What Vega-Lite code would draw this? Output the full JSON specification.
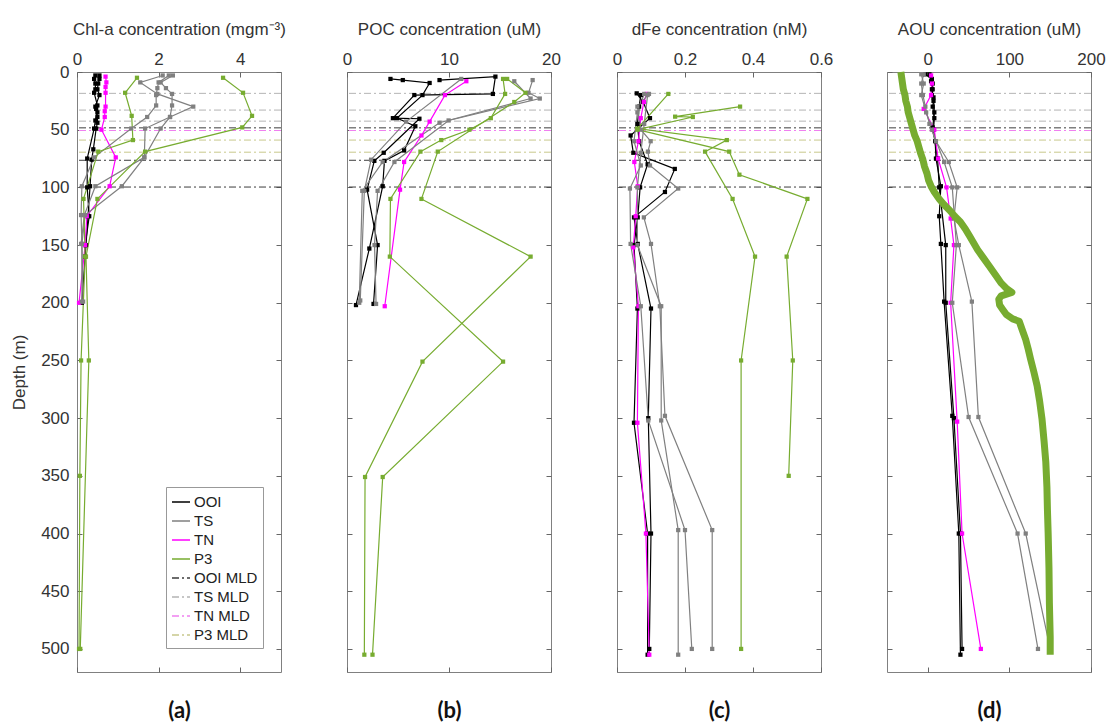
{
"$schema": "https://vega.github.io/schema/vega-lite/v6.json",
"background": "white",
"padding": {"left": 10, "top": 19, "right": 5, "bottom": 5},
"spacing": 66,
"bounds": "flush",
"datasets": {
"mld": [
{"s":"TS MLD","d":18.5},{"s":"TS MLD","d":33},{"s":"TS MLD","d":42.6},{"s":"OOI MLD","d":48.4},{"s":"TN MLD","d":50.7},{"s":"P3 MLD","d":59},{"s":"P3 MLD","d":69.5},{"s":"OOI MLD","d":76.5},{"s":"OOI MLD","d":99.7}
],
"prof": [
{"p":"a","s":"OOI","c":"OOI1","d":3,"v":0.45},{"p":"a","s":"OOI","c":"OOI1","d":6,"v":0.42},{"p":"a","s":"OOI","c":"OOI1","d":10,"v":0.45},{"p":"a","s":"OOI","c":"OOI1","d":15,"v":0.45},{"p":"a","s":"OOI","c":"OOI1","d":18,"v":0.42},{"p":"a","s":"OOI","c":"OOI1","d":29,"v":0.5},{"p":"a","s":"OOI","c":"OOI1","d":32,"v":0.47},{"p":"a","s":"OOI","c":"OOI1","d":39,"v":0.5},{"p":"a","s":"OOI","c":"OOI1","d":44,"v":0.5},{"p":"a","s":"OOI","c":"OOI1","d":49,"v":0.47},{"p":"a","s":"OOI","c":"OOI1","d":67,"v":0.4},{"p":"a","s":"OOI","c":"OOI1","d":76,"v":0.36},{"p":"a","s":"OOI","c":"OOI1","d":99,"v":0.32},{"p":"a","s":"OOI","c":"OOI1","d":125,"v":0.27},{"p":"a","s":"OOI","c":"OOI1","d":150,"v":0.22},{"p":"a","s":"OOI","c":"OOI1","d":200,"v":0.12},
{"p":"a","s":"OOI","c":"OOI2","d":3,"v":0.55},{"p":"a","s":"OOI","c":"OOI2","d":6,"v":0.55},{"p":"a","s":"OOI","c":"OOI2","d":10,"v":0.52},{"p":"a","s":"OOI","c":"OOI2","d":15,"v":0.5},{"p":"a","s":"OOI","c":"OOI2","d":20,"v":0.55},{"p":"a","s":"OOI","c":"OOI2","d":30,"v":0.45},{"p":"a","s":"OOI","c":"OOI2","d":35,"v":0.5},{"p":"a","s":"OOI","c":"OOI2","d":42,"v":0.45},{"p":"a","s":"OOI","c":"OOI2","d":49,"v":0.42},{"p":"a","s":"OOI","c":"OOI2","d":75,"v":0.25},{"p":"a","s":"OOI","c":"OOI2","d":100,"v":0.25},{"p":"a","s":"OOI","c":"OOI2","d":125,"v":0.3},{"p":"a","s":"OOI","c":"OOI2","d":150,"v":0.2},{"p":"a","s":"OOI","c":"OOI2","d":160,"v":0.2},
{"p":"a","s":"TN","c":"TN1","d":4,"v":0.7},{"p":"a","s":"TN","c":"TN1","d":9,"v":0.72},{"p":"a","s":"TN","c":"TN1","d":13,"v":0.7},{"p":"a","s":"TN","c":"TN1","d":18,"v":0.7},{"p":"a","s":"TN","c":"TN1","d":30,"v":0.7},{"p":"a","s":"TN","c":"TN1","d":34,"v":0.68},{"p":"a","s":"TN","c":"TN1","d":39,"v":0.68},{"p":"a","s":"TN","c":"TN1","d":50,"v":0.6},{"p":"a","s":"TN","c":"TN1","d":74,"v":0.95},{"p":"a","s":"TN","c":"TN1","d":99,"v":0.8},{"p":"a","s":"TN","c":"TN1","d":125,"v":0.24},{"p":"a","s":"TN","c":"TN1","d":150,"v":0.2},{"p":"a","s":"TN","c":"TN1","d":200,"v":0.05},
{"p":"a","s":"TS","c":"TS1","d":3,"v":2.25},{"p":"a","s":"TS","c":"TS1","d":9,"v":2.0},{"p":"a","s":"TS","c":"TS1","d":14,"v":1.97},{"p":"a","s":"TS","c":"TS1","d":20,"v":1.94},{"p":"a","s":"TS","c":"TS1","d":29,"v":1.94},{"p":"a","s":"TS","c":"TS1","d":39,"v":1.72},{"p":"a","s":"TS","c":"TS1","d":49,"v":1.33},{"p":"a","s":"TS","c":"TS1","d":74,"v":0.42},{"p":"a","s":"TS","c":"TS1","d":99,"v":0.12},{"p":"a","s":"TS","c":"TS1","d":124,"v":0.1},{"p":"a","s":"TS","c":"TS1","d":149,"v":0.12},{"p":"a","s":"TS","c":"TS1","d":199,"v":0.15},
{"p":"a","s":"TS","c":"TS2","d":3,"v":2.35},{"p":"a","s":"TS","c":"TS2","d":9,"v":2.05},{"p":"a","s":"TS","c":"TS2","d":14,"v":2.18},{"p":"a","s":"TS","c":"TS2","d":19,"v":2.33},{"p":"a","s":"TS","c":"TS2","d":29,"v":2.33},{"p":"a","s":"TS","c":"TS2","d":39,"v":2.28},{"p":"a","s":"TS","c":"TS2","d":49,"v":2.05},{"p":"a","s":"TS","c":"TS2","d":74,"v":1.65},{"p":"a","s":"TS","c":"TS2","d":99,"v":1.1},{"p":"a","s":"TS","c":"TS2","d":124,"v":0.2},{"p":"a","s":"TS","c":"TS2","d":149,"v":0.12},{"p":"a","s":"TS","c":"TS2","d":199,"v":0.12},
{"p":"a","s":"TS","c":"TS3","d":3,"v":2.1},{"p":"a","s":"TS","c":"TS3","d":9,"v":1.55},{"p":"a","s":"TS","c":"TS3","d":19,"v":1.97},{"p":"a","s":"TS","c":"TS3","d":30,"v":2.85},{"p":"a","s":"TS","c":"TS3","d":39,"v":2.28},{"p":"a","s":"TS","c":"TS3","d":49,"v":1.67},{"p":"a","s":"TS","c":"TS3","d":74,"v":1.65},{"p":"a","s":"TS","c":"TS3","d":99,"v":0.45},{"p":"a","s":"TS","c":"TS3","d":124,"v":0.18},{"p":"a","s":"TS","c":"TS3","d":149,"v":0.1},
{"p":"a","s":"P3","c":"P3a","d":5,"v":1.47},{"p":"a","s":"P3","c":"P3a","d":18,"v":1.18},{"p":"a","s":"P3","c":"P3a","d":38,"v":1.34},{"p":"a","s":"P3","c":"P3a","d":59,"v":1.37},{"p":"a","s":"P3","c":"P3a","d":69,"v":0.52},{"p":"a","s":"P3","c":"P3a","d":110,"v":0.16},{"p":"a","s":"P3","c":"P3a","d":160,"v":0.2},{"p":"a","s":"P3","c":"P3a","d":250,"v":0.1},{"p":"a","s":"P3","c":"P3a","d":350,"v":0.07},{"p":"a","s":"P3","c":"P3a","d":500,"v":0.05},
{"p":"a","s":"P3","c":"P3b","d":5,"v":3.58},{"p":"a","s":"P3","c":"P3b","d":18,"v":4.07},{"p":"a","s":"P3","c":"P3b","d":38,"v":4.29},{"p":"a","s":"P3","c":"P3b","d":48,"v":4.05},{"p":"a","s":"P3","c":"P3b","d":69,"v":1.67},{"p":"a","s":"P3","c":"P3b","d":110,"v":0.5},{"p":"a","s":"P3","c":"P3b","d":160,"v":0.22},{"p":"a","s":"P3","c":"P3b","d":250,"v":0.29},{"p":"a","s":"P3","c":"P3b","d":500,"v":0.08},

{"p":"b","s":"OOI","c":"OOI1","d":6,"v":4.26},{"p":"b","s":"OOI","c":"OOI1","d":7,"v":5.47},{"p":"b","s":"OOI","c":"OOI1","d":9.5,"v":8.1},{"p":"b","s":"OOI","c":"OOI1","d":20,"v":7.4},{"p":"b","s":"OOI","c":"OOI1","d":40,"v":4.9},{"p":"b","s":"OOI","c":"OOI1","d":47,"v":6.7},{"p":"b","s":"OOI","c":"OOI1","d":68,"v":5.6},{"p":"b","s":"OOI","c":"OOI1","d":77,"v":3.67},{"p":"b","s":"OOI","c":"OOI1","d":99,"v":3.5},{"p":"b","s":"OOI","c":"OOI1","d":153,"v":2.19},{"p":"b","s":"OOI","c":"OOI1","d":202,"v":0.88},
{"p":"b","s":"OOI","c":"OOI2","d":7,"v":9.07},{"p":"b","s":"OOI","c":"OOI2","d":4,"v":14.55},{"p":"b","s":"OOI","c":"OOI2","d":19,"v":14.3},{"p":"b","s":"OOI","c":"OOI2","d":20,"v":6.6},{"p":"b","s":"OOI","c":"OOI2","d":40,"v":4.5},{"p":"b","s":"OOI","c":"OOI2","d":40.5,"v":7.1},{"p":"b","s":"OOI","c":"OOI2","d":70,"v":3.6},{"p":"b","s":"OOI","c":"OOI2","d":77,"v":2.68},{"p":"b","s":"OOI","c":"OOI2","d":102,"v":1.97},{"p":"b","s":"OOI","c":"OOI2","d":150,"v":3.0},{"p":"b","s":"OOI","c":"OOI2","d":201,"v":2.6},
{"p":"b","s":"TN","c":"TN1","d":8,"v":11.7},{"p":"b","s":"TN","c":"TN1","d":20,"v":9.6},{"p":"b","s":"TN","c":"TN1","d":43,"v":8.1},{"p":"b","s":"TN","c":"TN1","d":55,"v":7.3},{"p":"b","s":"TN","c":"TN1","d":78,"v":5.6},{"p":"b","s":"TN","c":"TN1","d":102,"v":5.2},{"p":"b","s":"TN","c":"TN1","d":203,"v":3.7},
{"p":"b","s":"TS","c":"TS1","d":6,"v":11.2},{"p":"b","s":"TS","c":"TS1","d":43,"v":5.8},{"p":"b","s":"TS","c":"TS1","d":76,"v":2.36},{"p":"b","s":"TS","c":"TS1","d":103,"v":1.7},{"p":"b","s":"TS","c":"TS1","d":198,"v":1.3},
{"p":"b","s":"TS","c":"TS2","d":7,"v":18.2},{"p":"b","s":"TS","c":"TS2","d":18,"v":17.8},{"p":"b","s":"TS","c":"TS2","d":23,"v":18.9},{"p":"b","s":"TS","c":"TS2","d":42,"v":9.96},{"p":"b","s":"TS","c":"TS2","d":78,"v":4.65},{"p":"b","s":"TS","c":"TS2","d":103,"v":3.0},{"p":"b","s":"TS","c":"TS2","d":150,"v":2.7},{"p":"b","s":"TS","c":"TS2","d":201,"v":2.85},
{"p":"b","s":"TS","c":"TS3","d":8,"v":16.4},{"p":"b","s":"TS","c":"TS3","d":23,"v":18.0},{"p":"b","s":"TS","c":"TS3","d":44,"v":9.07},{"p":"b","s":"TS","c":"TS3","d":78,"v":3.5},{"p":"b","s":"TS","c":"TS3","d":103,"v":1.5},{"p":"b","s":"TS","c":"TS3","d":200,"v":1.2},
{"p":"b","s":"P3","c":"P3a","d":6,"v":15.3},{"p":"b","s":"P3","c":"P3a","d":19,"v":15.5},{"p":"b","s":"P3","c":"P3a","d":40,"v":14.1},{"p":"b","s":"P3","c":"P3a","d":50,"v":12.0},{"p":"b","s":"P3","c":"P3a","d":59,"v":9.24},{"p":"b","s":"P3","c":"P3a","d":69,"v":7.2},{"p":"b","s":"P3","c":"P3a","d":110,"v":4.26},{"p":"b","s":"P3","c":"P3a","d":160,"v":4.2},{"p":"b","s":"P3","c":"P3a","d":251,"v":15.3},{"p":"b","s":"P3","c":"P3a","d":351,"v":3.5},{"p":"b","s":"P3","c":"P3a","d":505,"v":2.5},
{"p":"b","s":"P3","c":"P3b","d":6,"v":15.7},{"p":"b","s":"P3","c":"P3b","d":18,"v":17.5},{"p":"b","s":"P3","c":"P3b","d":26,"v":16.4},{"p":"b","s":"P3","c":"P3b","d":69,"v":8.9},{"p":"b","s":"P3","c":"P3b","d":110,"v":7.3},{"p":"b","s":"P3","c":"P3b","d":160,"v":18.0},{"p":"b","s":"P3","c":"P3b","d":251,"v":7.4},{"p":"b","s":"P3","c":"P3b","d":351,"v":1.77},{"p":"b","s":"P3","c":"P3b","d":505,"v":1.7},

{"p":"c","s":"OOI","c":"OOI1","d":18.5,"v":0.058},{"p":"c","s":"OOI","c":"OOI1","d":26,"v":0.077},{"p":"c","s":"OOI","c":"OOI1","d":40,"v":0.097},{"p":"c","s":"OOI","c":"OOI1","d":55,"v":0.04},{"p":"c","s":"OOI","c":"OOI1","d":70,"v":0.048},{"p":"c","s":"OOI","c":"OOI1","d":84,"v":0.17},{"p":"c","s":"OOI","c":"OOI1","d":104,"v":0.141},{"p":"c","s":"OOI","c":"OOI1","d":126,"v":0.05},{"p":"c","s":"OOI","c":"OOI1","d":149,"v":0.061},{"p":"c","s":"OOI","c":"OOI1","d":205,"v":0.1},{"p":"c","s":"OOI","c":"OOI1","d":300,"v":0.092},{"p":"c","s":"OOI","c":"OOI1","d":400,"v":0.1},{"p":"c","s":"OOI","c":"OOI1","d":500,"v":0.095},
{"p":"c","s":"OOI","c":"OOI2","d":20,"v":0.07},{"p":"c","s":"OOI","c":"OOI2","d":30,"v":0.065},{"p":"c","s":"OOI","c":"OOI2","d":45,"v":0.06},{"p":"c","s":"OOI","c":"OOI2","d":60,"v":0.065},{"p":"c","s":"OOI","c":"OOI2","d":80,"v":0.09},{"p":"c","s":"OOI","c":"OOI2","d":100,"v":0.068},{"p":"c","s":"OOI","c":"OOI2","d":126,"v":0.061},{"p":"c","s":"OOI","c":"OOI2","d":150,"v":0.05},{"p":"c","s":"OOI","c":"OOI2","d":205,"v":0.06},{"p":"c","s":"OOI","c":"OOI2","d":304,"v":0.05},{"p":"c","s":"OOI","c":"OOI2","d":400,"v":0.09},{"p":"c","s":"OOI","c":"OOI2","d":505,"v":0.09},
{"p":"c","s":"TN","c":"TN1","d":19,"v":0.087},{"p":"c","s":"TN","c":"TN1","d":26,"v":0.079},{"p":"c","s":"TN","c":"TN1","d":40,"v":0.07},{"p":"c","s":"TN","c":"TN1","d":60,"v":0.063},{"p":"c","s":"TN","c":"TN1","d":78,"v":0.051},{"p":"c","s":"TN","c":"TN1","d":99,"v":0.061},{"p":"c","s":"TN","c":"TN1","d":125,"v":0.055},{"p":"c","s":"TN","c":"TN1","d":152,"v":0.048},{"p":"c","s":"TN","c":"TN1","d":203,"v":0.063},{"p":"c","s":"TN","c":"TN1","d":304,"v":0.06},{"p":"c","s":"TN","c":"TN1","d":400,"v":0.085},{"p":"c","s":"TN","c":"TN1","d":505,"v":0.095},
{"p":"c","s":"TS","c":"TS1","d":19,"v":0.094},{"p":"c","s":"TS","c":"TS1","d":30,"v":0.06},{"p":"c","s":"TS","c":"TS1","d":50,"v":0.07},{"p":"c","s":"TS","c":"TS1","d":60,"v":0.099},{"p":"c","s":"TS","c":"TS1","d":69,"v":0.091},{"p":"c","s":"TS","c":"TS1","d":81,"v":0.097},{"p":"c","s":"TS","c":"TS1","d":101,"v":0.18},{"p":"c","s":"TS","c":"TS1","d":126,"v":0.079},{"p":"c","s":"TS","c":"TS1","d":149,"v":0.1},{"p":"c","s":"TS","c":"TS1","d":203,"v":0.126},{"p":"c","s":"TS","c":"TS1","d":298,"v":0.141},{"p":"c","s":"TS","c":"TS1","d":397,"v":0.28},{"p":"c","s":"TS","c":"TS1","d":500,"v":0.28},
{"p":"c","s":"TS","c":"TS2","d":19,"v":0.08},{"p":"c","s":"TS","c":"TS2","d":35,"v":0.06},{"p":"c","s":"TS","c":"TS2","d":60,"v":0.05},{"p":"c","s":"TS","c":"TS2","d":81,"v":0.07},{"p":"c","s":"TS","c":"TS2","d":101,"v":0.038},{"p":"c","s":"TS","c":"TS2","d":149,"v":0.04},{"p":"c","s":"TS","c":"TS2","d":203,"v":0.07},{"p":"c","s":"TS","c":"TS2","d":302,"v":0.092},{"p":"c","s":"TS","c":"TS2","d":397,"v":0.2},{"p":"c","s":"TS","c":"TS2","d":500,"v":0.22},
{"p":"c","s":"TS","c":"TS3","d":20,"v":0.09},{"p":"c","s":"TS","c":"TS3","d":45,"v":0.08},{"p":"c","s":"TS","c":"TS3","d":70,"v":0.07},{"p":"c","s":"TS","c":"TS3","d":100,"v":0.06},{"p":"c","s":"TS","c":"TS3","d":150,"v":0.06},{"p":"c","s":"TS","c":"TS3","d":203,"v":0.13},{"p":"c","s":"TS","c":"TS3","d":302,"v":0.13},{"p":"c","s":"TS","c":"TS3","d":397,"v":0.18},{"p":"c","s":"TS","c":"TS3","d":505,"v":0.18},
{"p":"c","s":"P3","c":"P3a","d":19,"v":0.151},{"p":"c","s":"P3","c":"P3a","d":49,"v":0.06},{"p":"c","s":"P3","c":"P3a","d":59,"v":0.323},{"p":"c","s":"P3","c":"P3a","d":69,"v":0.259},{"p":"c","s":"P3","c":"P3a","d":110,"v":0.34},{"p":"c","s":"P3","c":"P3a","d":160,"v":0.406},{"p":"c","s":"P3","c":"P3a","d":250,"v":0.365},{"p":"c","s":"P3","c":"P3a","d":500,"v":0.365},
{"p":"c","s":"P3","c":"P3b","d":30,"v":0.362},{"p":"c","s":"P3","c":"P3b","d":38.7,"v":0.171},{"p":"c","s":"P3","c":"P3b","d":39,"v":0.223},{"p":"c","s":"P3","c":"P3b","d":50,"v":0.06},{"p":"c","s":"P3","c":"P3b","d":69,"v":0.33},{"p":"c","s":"P3","c":"P3b","d":89,"v":0.36},{"p":"c","s":"P3","c":"P3b","d":110,"v":0.56},{"p":"c","s":"P3","c":"P3b","d":160,"v":0.499},{"p":"c","s":"P3","c":"P3b","d":250,"v":0.517},{"p":"c","s":"P3","c":"P3b","d":350,"v":0.505},

{"p":"d","s":"OOI","c":"OOI1","d":2,"v":-3},{"p":"d","s":"OOI","c":"OOI1","d":6,"v":5},{"p":"d","s":"OOI","c":"OOI1","d":10,"v":6},{"p":"d","s":"OOI","c":"OOI1","d":15,"v":6},{"p":"d","s":"OOI","c":"OOI1","d":20,"v":5},{"p":"d","s":"OOI","c":"OOI1","d":25,"v":7},{"p":"d","s":"OOI","c":"OOI1","d":30,"v":6},{"p":"d","s":"OOI","c":"OOI1","d":40,"v":8},{"p":"d","s":"OOI","c":"OOI1","d":50,"v":7},{"p":"d","s":"OOI","c":"OOI1","d":60,"v":9},{"p":"d","s":"OOI","c":"OOI1","d":75,"v":10},{"p":"d","s":"OOI","c":"OOI1","d":99,"v":16},{"p":"d","s":"OOI","c":"OOI1","d":125,"v":14},{"p":"d","s":"OOI","c":"OOI1","d":149,"v":16},{"p":"d","s":"OOI","c":"OOI1","d":199,"v":20},{"p":"d","s":"OOI","c":"OOI1","d":298,"v":30},{"p":"d","s":"OOI","c":"OOI1","d":400,"v":38},{"p":"d","s":"OOI","c":"OOI1","d":505,"v":40},
{"p":"d","s":"OOI","c":"OOI2","d":2,"v":2},{"p":"d","s":"OOI","c":"OOI2","d":8,"v":4},{"p":"d","s":"OOI","c":"OOI2","d":15,"v":5},{"p":"d","s":"OOI","c":"OOI2","d":22,"v":7},{"p":"d","s":"OOI","c":"OOI2","d":35,"v":8},{"p":"d","s":"OOI","c":"OOI2","d":48,"v":6},{"p":"d","s":"OOI","c":"OOI2","d":75,"v":12},{"p":"d","s":"OOI","c":"OOI2","d":100,"v":14},{"p":"d","s":"OOI","c":"OOI2","d":150,"v":22},{"p":"d","s":"OOI","c":"OOI2","d":200,"v":22},{"p":"d","s":"OOI","c":"OOI2","d":300,"v":32},{"p":"d","s":"OOI","c":"OOI2","d":400,"v":40},{"p":"d","s":"OOI","c":"OOI2","d":500,"v":42},
{"p":"d","s":"TN","c":"TN1","d":3,"v":4},{"p":"d","s":"TN","c":"TN1","d":10,"v":5},{"p":"d","s":"TN","c":"TN1","d":20,"v":4},{"p":"d","s":"TN","c":"TN1","d":32,"v":-5},{"p":"d","s":"TN","c":"TN1","d":50,"v":8},{"p":"d","s":"TN","c":"TN1","d":75,"v":12.6},{"p":"d","s":"TN","c":"TN1","d":100,"v":23},{"p":"d","s":"TN","c":"TN1","d":127,"v":28},{"p":"d","s":"TN","c":"TN1","d":150,"v":32},{"p":"d","s":"TN","c":"TN1","d":200,"v":28},{"p":"d","s":"TN","c":"TN1","d":303,"v":36},{"p":"d","s":"TN","c":"TN1","d":400,"v":42},{"p":"d","s":"TN","c":"TN1","d":500,"v":65},
{"p":"d","s":"TS","c":"TS1","d":2,"v":-5},{"p":"d","s":"TS","c":"TS1","d":10,"v":-8},{"p":"d","s":"TS","c":"TS1","d":20,"v":-6},{"p":"d","s":"TS","c":"TS1","d":30,"v":-3},{"p":"d","s":"TS","c":"TS1","d":45,"v":2},{"p":"d","s":"TS","c":"TS1","d":60,"v":10},{"p":"d","s":"TS","c":"TS1","d":78,"v":25.7},{"p":"d","s":"TS","c":"TS1","d":100,"v":36},{"p":"d","s":"TS","c":"TS1","d":127,"v":32},{"p":"d","s":"TS","c":"TS1","d":150,"v":38},{"p":"d","s":"TS","c":"TS1","d":199,"v":54},{"p":"d","s":"TS","c":"TS1","d":299,"v":62},{"p":"d","s":"TS","c":"TS1","d":400,"v":120},{"p":"d","s":"TS","c":"TS1","d":500,"v":150},
{"p":"d","s":"TS","c":"TS2","d":2,"v":-8},{"p":"d","s":"TS","c":"TS2","d":10,"v":-5},{"p":"d","s":"TS","c":"TS2","d":20,"v":-8},{"p":"d","s":"TS","c":"TS2","d":35,"v":-2},{"p":"d","s":"TS","c":"TS2","d":50,"v":5},{"p":"d","s":"TS","c":"TS2","d":78,"v":20},{"p":"d","s":"TS","c":"TS2","d":100,"v":30},{"p":"d","s":"TS","c":"TS2","d":150,"v":35},{"p":"d","s":"TS","c":"TS2","d":200,"v":30},{"p":"d","s":"TS","c":"TS2","d":299,"v":50},{"p":"d","s":"TS","c":"TS2","d":400,"v":110},{"p":"d","s":"TS","c":"TS2","d":500,"v":135},
{"p":"d","s":"P3","c":"P3d","d":0,"v":-33},{"p":"d","s":"P3","c":"P3d","d":5,"v":-32},{"p":"d","s":"P3","c":"P3d","d":10,"v":-31},{"p":"d","s":"P3","c":"P3d","d":15,"v":-30},{"p":"d","s":"P3","c":"P3d","d":20,"v":-28},{"p":"d","s":"P3","c":"P3d","d":25,"v":-27},{"p":"d","s":"P3","c":"P3d","d":30,"v":-25},{"p":"d","s":"P3","c":"P3d","d":35,"v":-24},{"p":"d","s":"P3","c":"P3d","d":40,"v":-22},{"p":"d","s":"P3","c":"P3d","d":45,"v":-20},{"p":"d","s":"P3","c":"P3d","d":50,"v":-18},{"p":"d","s":"P3","c":"P3d","d":55,"v":-16},{"p":"d","s":"P3","c":"P3d","d":60,"v":-13},{"p":"d","s":"P3","c":"P3d","d":65,"v":-11},{"p":"d","s":"P3","c":"P3d","d":70,"v":-9},{"p":"d","s":"P3","c":"P3d","d":76,"v":-6},{"p":"d","s":"P3","c":"P3d","d":82,"v":-4},{"p":"d","s":"P3","c":"P3d","d":88,"v":-1},{"p":"d","s":"P3","c":"P3d","d":94,"v":1},{"p":"d","s":"P3","c":"P3d","d":99,"v":4},{"p":"d","s":"P3","c":"P3d","d":104,"v":8},{"p":"d","s":"P3","c":"P3d","d":110,"v":14},{"p":"d","s":"P3","c":"P3d","d":115,"v":20},{"p":"d","s":"P3","c":"P3d","d":120,"v":27},{"p":"d","s":"P3","c":"P3d","d":125,"v":33},{"p":"d","s":"P3","c":"P3d","d":130,"v":40},{"p":"d","s":"P3","c":"P3d","d":136,"v":46},{"p":"d","s":"P3","c":"P3d","d":142,"v":51},{"p":"d","s":"P3","c":"P3d","d":148,"v":56},{"p":"d","s":"P3","c":"P3d","d":154,"v":61},{"p":"d","s":"P3","c":"P3d","d":160,"v":67},{"p":"d","s":"P3","c":"P3d","d":168,"v":75},{"p":"d","s":"P3","c":"P3d","d":176,"v":83},{"p":"d","s":"P3","c":"P3d","d":183,"v":90},{"p":"d","s":"P3","c":"P3d","d":188,"v":97},{"p":"d","s":"P3","c":"P3d","d":191,"v":103},{"p":"d","s":"P3","c":"P3d","d":194,"v":90},{"p":"d","s":"P3","c":"P3d","d":197,"v":87},{"p":"d","s":"P3","c":"P3d","d":202,"v":88},{"p":"d","s":"P3","c":"P3d","d":206,"v":92},{"p":"d","s":"P3","c":"P3d","d":210,"v":96},{"p":"d","s":"P3","c":"P3d","d":214,"v":104},{"p":"d","s":"P3","c":"P3d","d":216,"v":112},{"p":"d","s":"P3","c":"P3d","d":224,"v":116},{"p":"d","s":"P3","c":"P3d","d":232,"v":120},{"p":"d","s":"P3","c":"P3d","d":240,"v":123},{"p":"d","s":"P3","c":"P3d","d":249,"v":126},{"p":"d","s":"P3","c":"P3d","d":260,"v":130},{"p":"d","s":"P3","c":"P3d","d":272,"v":134},{"p":"d","s":"P3","c":"P3d","d":285,"v":137},{"p":"d","s":"P3","c":"P3d","d":301,"v":140},{"p":"d","s":"P3","c":"P3d","d":320,"v":142.5},{"p":"d","s":"P3","c":"P3d","d":338,"v":144.6},{"p":"d","s":"P3","c":"P3d","d":360,"v":146},{"p":"d","s":"P3","c":"P3d","d":379,"v":146.6},{"p":"d","s":"P3","c":"P3d","d":400,"v":147.5},{"p":"d","s":"P3","c":"P3d","d":430,"v":148.5},{"p":"d","s":"P3","c":"P3d","d":460,"v":149},{"p":"d","s":"P3","c":"P3d","d":490,"v":150},{"p":"d","s":"P3","c":"P3d","d":505,"v":150}
]
},
"hconcat": [
{
"width": 204, "height": 600,
"layer": [
{"data": {"name": "mld"}, "mark": {"type": "rule", "strokeWidth": 1},
 "encoding": {
  "y": {"field": "d", "type": "quantitative", "scale": {"domain": [0, 520], "nice": false, "zero": false, "reverse": true}, "axis": {"orient": "left", "title": "Depth (m)", "values": [0,50,100,150,200,250,300,350,400,450,500], "labelPadding": 13, "titlePadding": 12}},
  "color": {"field": "s", "type": "nominal", "scale": {"domain": ["OOI","TS","TN","P3","OOI MLD","TS MLD","TN MLD","P3 MLD"], "range": ["#000000","#808080","#ff00ff","#77ac30","#3c3c3c","#b4b4b4","#f080f0","#c8c88c"]},
   "legend": {"orient": "none", "legendX": 89, "legendY": 415, "title": null, "symbolType": "stroke", "symbolSize": 324, "symbolStrokeWidth": 1.3, "labelFont": "Liberation Sans", "labelFontSize": 15, "labelColor": "#222", "strokeColor": "#999", "fillColor": "white", "padding": 5, "rowPadding": 1, "labelOffset": 3}},
  "strokeDash": {"field": "s", "type": "nominal", "scale": {"domain": ["OOI","TS","TN","P3","OOI MLD","TS MLD","TN MLD","P3 MLD"], "range": [[1,0],[1,0],[1,0],[1,0],[7,3,2,3],[7,3,2,3],[7,3,2,3],[7,3,2,3]]},
   "legend": {"orient": "none", "legendX": 89, "legendY": 415, "title": null, "symbolType": "stroke", "symbolSize": 324, "symbolStrokeWidth": 1.3, "labelFont": "Liberation Sans", "labelFontSize": 15, "labelColor": "#222", "strokeColor": "#999", "fillColor": "white", "padding": 5, "rowPadding": 1, "labelOffset": 3}}
 }},
{"data": {"name": "prof"}, "transform": [{"filter": "datum.p == 'a'"}],
 "mark": {"type": "line", "strokeWidth": 1.2, "point": {"shape": "square", "filled": true, "size": 18}},
 "encoding": {
  "x": {"field": "v", "type": "quantitative", "scale": {"domain": [0, 5], "nice": false, "zero": false}, "axis": {"orient": "top", "title": "Chl-a concentration (mgm⁻³)", "values": [0,2,4], "labelPadding": 9, "titlePadding": 12}},
  "y": {"field": "d", "type": "quantitative", "axis": {"orient": "right", "labels": false, "title": null, "values": [0,50,100,150,200,250,300,350,400,450,500]}},
  "color": {"field": "s", "type": "nominal"},
  "detail": {"field": "c"},
  "order": {"value": null}
 }},
{"data": {"name": "prof"}, "transform": [{"filter": "datum.p == 'a'"}],
 "mark": {"type": "point", "opacity": 0},
 "encoding": {
  "x": {"field": "v", "type": "quantitative", "axis": {"orient": "bottom", "labels": false, "values": [0,2,4], "title": "(a)", "titleFont": "Lato", "titleFontSize": 22, "titleFontWeight": "bold", "titleColor": "#111", "titlePadding": 28}},
  "y": {"field": "d", "type": "quantitative", "axis": null}
 }}
],
"resolve": {"axis": {"x": "independent", "y": "independent"}}
},
{
"width": 204, "height": 600,
"layer": [
{"data": {"name": "mld"}, "mark": {"type": "rule", "strokeWidth": 1},
 "encoding": {
  "y": {"field": "d", "type": "quantitative", "scale": {"domain": [0, 520], "nice": false, "zero": false, "reverse": true}, "axis": {"orient": "left", "labels": false, "title": null, "values": [0,50,100,150,200,250,300,350,400,450,500]}},
  "color": {"field": "s", "type": "nominal", "scale": {"domain": ["OOI","TS","TN","P3","OOI MLD","TS MLD","TN MLD","P3 MLD"], "range": ["#000000","#808080","#ff00ff","#77ac30","#3c3c3c","#b4b4b4","#f080f0","#c8c88c"]}, "legend": null},
  "strokeDash": {"field": "s", "type": "nominal", "scale": {"domain": ["OOI","TS","TN","P3","OOI MLD","TS MLD","TN MLD","P3 MLD"], "range": [[1,0],[1,0],[1,0],[1,0],[7,3,2,3],[7,3,2,3],[7,3,2,3],[7,3,2,3]]}, "legend": null}
 }},
{"data": {"name": "prof"}, "transform": [{"filter": "datum.p == 'b'"}],
 "mark": {"type": "line", "strokeWidth": 1.2, "point": {"shape": "square", "filled": true, "size": 18}},
 "encoding": {
  "x": {"field": "v", "type": "quantitative", "scale": {"domain": [0, 20], "nice": false, "zero": false}, "axis": {"orient": "top", "title": "POC concentration (uM)", "values": [0,10,20], "labelPadding": 9, "titlePadding": 12}},
  "y": {"field": "d", "type": "quantitative", "axis": {"orient": "right", "labels": false, "title": null, "values": [0,50,100,150,200,250,300,350,400,450,500]}},
  "color": {"field": "s", "type": "nominal", "legend": null},
  "detail": {"field": "c"},
  "order": {"value": null}
 }},
{"data": {"name": "prof"}, "transform": [{"filter": "datum.p == 'b'"}],
 "mark": {"type": "point", "opacity": 0},
 "encoding": {
  "x": {"field": "v", "type": "quantitative", "axis": {"orient": "bottom", "labels": false, "values": [0,10,20], "title": "(b)", "titleFont": "Lato", "titleFontSize": 22, "titleFontWeight": "bold", "titleColor": "#111", "titlePadding": 28}},
  "y": {"field": "d", "type": "quantitative", "axis": null}
 }}
],
"resolve": {"axis": {"x": "independent", "y": "independent"}}
},
{
"width": 204, "height": 600,
"layer": [
{"data": {"name": "mld"}, "mark": {"type": "rule", "strokeWidth": 1},
 "encoding": {
  "y": {"field": "d", "type": "quantitative", "scale": {"domain": [0, 520], "nice": false, "zero": false, "reverse": true}, "axis": {"orient": "left", "labels": false, "title": null, "values": [0,50,100,150,200,250,300,350,400,450,500]}},
  "color": {"field": "s", "type": "nominal", "scale": {"domain": ["OOI","TS","TN","P3","OOI MLD","TS MLD","TN MLD","P3 MLD"], "range": ["#000000","#808080","#ff00ff","#77ac30","#3c3c3c","#b4b4b4","#f080f0","#c8c88c"]}, "legend": null},
  "strokeDash": {"field": "s", "type": "nominal", "scale": {"domain": ["OOI","TS","TN","P3","OOI MLD","TS MLD","TN MLD","P3 MLD"], "range": [[1,0],[1,0],[1,0],[1,0],[7,3,2,3],[7,3,2,3],[7,3,2,3],[7,3,2,3]]}, "legend": null}
 }},
{"data": {"name": "prof"}, "transform": [{"filter": "datum.p == 'c'"}],
 "mark": {"type": "line", "strokeWidth": 1.2, "point": {"shape": "square", "filled": true, "size": 18}},
 "encoding": {
  "x": {"field": "v", "type": "quantitative", "scale": {"domain": [0, 0.6], "nice": false, "zero": false}, "axis": {"orient": "top", "title": "dFe concentration (nM)", "values": [0,0.2,0.4,0.6], "format": "~g", "labelPadding": 9, "titlePadding": 12}},
  "y": {"field": "d", "type": "quantitative", "axis": {"orient": "right", "labels": false, "title": null, "values": [0,50,100,150,200,250,300,350,400,450,500]}},
  "color": {"field": "s", "type": "nominal", "legend": null},
  "detail": {"field": "c"},
  "order": {"value": null}
 }},
{"data": {"name": "prof"}, "transform": [{"filter": "datum.p == 'c'"}],
 "mark": {"type": "point", "opacity": 0},
 "encoding": {
  "x": {"field": "v", "type": "quantitative", "axis": {"orient": "bottom", "labels": false, "values": [0,0.2,0.4,0.6], "title": "(c)", "titleFont": "Lato", "titleFontSize": 22, "titleFontWeight": "bold", "titleColor": "#111", "titlePadding": 28}},
  "y": {"field": "d", "type": "quantitative", "axis": null}
 }}
],
"resolve": {"axis": {"x": "independent", "y": "independent"}}
},
{
"width": 204, "height": 600,
"layer": [
{"data": {"name": "mld"}, "mark": {"type": "rule", "strokeWidth": 1},
 "encoding": {
  "y": {"field": "d", "type": "quantitative", "scale": {"domain": [0, 520], "nice": false, "zero": false, "reverse": true}, "axis": {"orient": "left", "labels": false, "title": null, "values": [0,50,100,150,200,250,300,350,400,450,500]}},
  "color": {"field": "s", "type": "nominal", "scale": {"domain": ["OOI","TS","TN","P3","OOI MLD","TS MLD","TN MLD","P3 MLD"], "range": ["#000000","#808080","#ff00ff","#77ac30","#3c3c3c","#b4b4b4","#f080f0","#c8c88c"]}, "legend": null},
  "strokeDash": {"field": "s", "type": "nominal", "scale": {"domain": ["OOI","TS","TN","P3","OOI MLD","TS MLD","TN MLD","P3 MLD"], "range": [[1,0],[1,0],[1,0],[1,0],[7,3,2,3],[7,3,2,3],[7,3,2,3],[7,3,2,3]]}, "legend": null}
 }},
{"data": {"name": "prof"}, "transform": [{"filter": "datum.p == 'd' && datum.c != 'P3d'"}],
 "mark": {"type": "line", "strokeWidth": 1.2, "point": {"shape": "square", "filled": true, "size": 18}},
 "encoding": {
  "x": {"field": "v", "type": "quantitative", "scale": {"domain": [-50, 200], "nice": false, "zero": false}, "axis": {"orient": "top", "title": "AOU concentration (uM)", "values": [0,100,200], "labelPadding": 9, "titlePadding": 12}},
  "y": {"field": "d", "type": "quantitative", "axis": {"orient": "right", "labels": false, "title": null, "values": [0,50,100,150,200,250,300,350,400,450,500]}},
  "color": {"field": "s", "type": "nominal", "legend": null},
  "detail": {"field": "c"},
  "order": {"value": null}
 }},
{"data": {"name": "prof"}, "transform": [{"filter": "datum.c == 'P3d'"}],
 "mark": {"type": "line", "strokeWidth": 7, "strokeJoin": "round"},
 "encoding": {
  "x": {"field": "v", "type": "quantitative", "axis": {"orient": "bottom", "labels": false, "values": [0,100,200], "title": "(d)", "titleFont": "Lato", "titleFontSize": 22, "titleFontWeight": "bold", "titleColor": "#111", "titlePadding": 28}},
  "y": {"field": "d", "type": "quantitative", "axis": null},
  "color": {"field": "s", "type": "nominal", "legend": null},
  "order": {"value": null}
 }}
],
"resolve": {"axis": {"x": "independent", "y": "independent"}}
}
],
"resolve": {"scale": {"color": "independent", "strokeDash": "independent"}, "legend": {"color": "independent", "strokeDash": "independent"}},
"config": {
 "view": {"stroke": "#808080", "strokeWidth": 1},
 "axis": {"domain": false, "grid": false, "ticks": true, "tickSize": -5, "tickColor": "#666", "labelFont": "Liberation Sans", "labelFontSize": 17, "labelColor": "#333", "titleFont": "Liberation Sans", "titleFontSize": 17, "titleFontWeight": "normal", "titleColor": "#333", "labelFlush": false, "labelOverlap": false}
}
}
